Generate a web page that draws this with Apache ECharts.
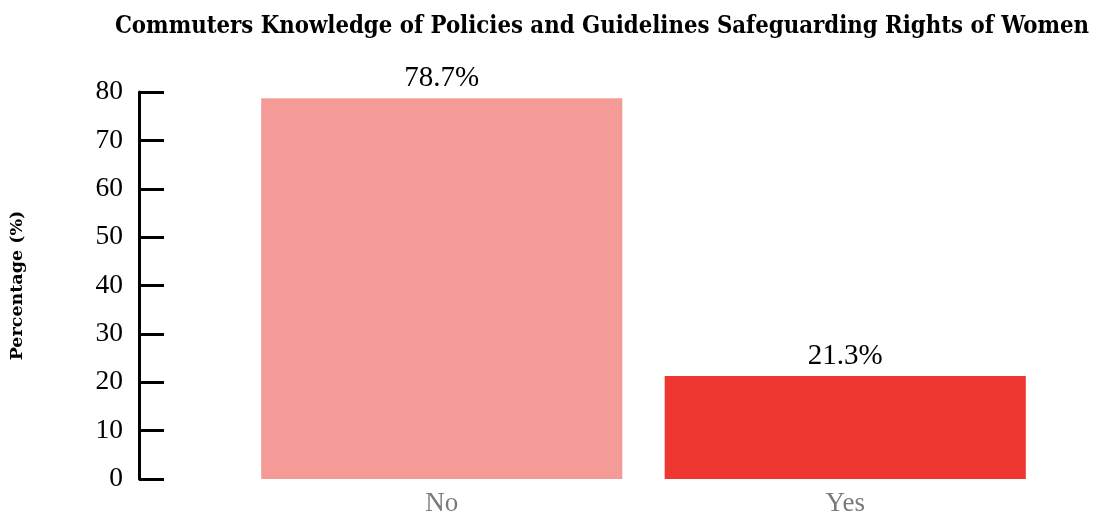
<!DOCTYPE html>
<html>
<head>
<meta charset="utf-8">
<script src="https://cdn.jsdelivr.net/npm/echarts@6/dist/echarts.min.js"></script>
<style>
  html, body { margin: 0; padding: 0; background: #fff; }
  #chart { width: 1093px; height: 517px; }
</style>
</head>
<body>
<div id="chart"></div>
<script>
// Survey answers and their shares
const categories = ['No', 'Yes'];
const percentages = [78.7, 21.3];
const barColors = ['#F59B97', '#EE3731'];
const yTicks = [0, 10, 20, 30, 40, 50, 60, 70, 80];

const serif = '"Liberation Serif", "DejaVu Serif", serif';

const chart = echarts.init(document.getElementById('chart'), null, { renderer: 'canvas' });

chart.setOption({
  animation: false,
  backgroundColor: '#ffffff',
  title: {
    text: 'Commuters Knowledge of Policies and Guidelines Safeguarding Rights of Women',
    left: 597,
    textAlign: 'center',
    top: 10,
    textStyle: {
      fontFamily: '"DejaVu Serif Condensed", "DejaVu Serif", serif',
      fontWeight: 'bold',
      fontSize: 23.7,
      color: '#000'
    }
  },
  grid: { left: 233, right: 46, top: 92, bottom: 33, containLabel: false },
  xAxis: {
    type: 'category',
    data: categories,
    axisLine: { show: false },
    axisTick: { show: false },
    axisLabel: {
      color: '#7a7a7a',
      fontFamily: serif,
      fontSize: 27,
      margin: 11
    }
  },
  yAxis: {
    type: 'value',
    min: yTicks[0],
    max: yTicks[yTicks.length - 1],
    interval: 10,
    offset: 101,
    name: 'Percentage (%)',
    nameLocation: 'middle',
    nameGap: 113,
    nameTextStyle: {
      fontFamily: '"DejaVu Serif", serif',
      fontWeight: 'bold',
      fontSize: 17.5,
      color: '#000'
    },
    axisLine: { show: true, lineStyle: { color: '#000', width: 3 } },
    axisTick: { show: true, inside: true, length: 25, lineStyle: { color: '#000', width: 3 } },
    splitLine: { show: false },
    axisLabel: {
      color: '#000',
      fontFamily: serif,
      fontSize: 27.5,
      margin: 16
    }
  },
  series: [{
    type: 'bar',
    data: percentages.map((v, i) => ({ value: v, itemStyle: { color: barColors[i] } })),
    barCategoryGap: '10.5%',
    label: {
      show: true,
      position: 'top',
      distance: 5,
      formatter: p => p.value.toFixed(1) + '%',
      color: '#000',
      fontFamily: serif,
      fontSize: 29
    }
  }]
});
</script>
</body>
</html>
